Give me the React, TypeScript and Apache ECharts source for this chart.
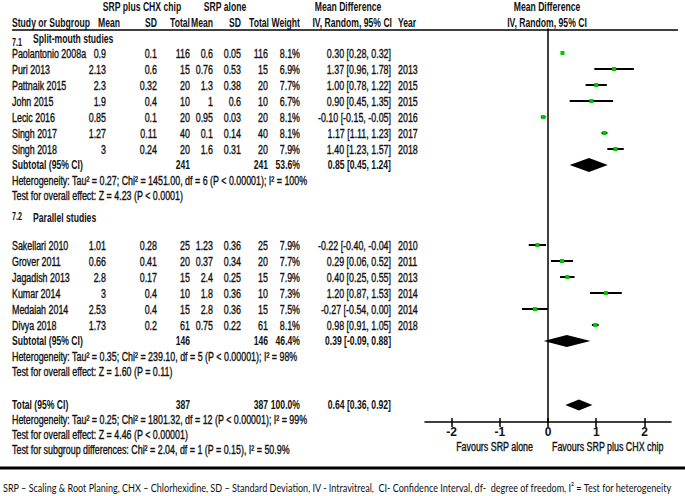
import React, { useEffect, useRef } from "react";
import * as echarts from "echarts";

// ---------- DATA ----------
const studies1 = ["Paolantonio 2008a", "Puri 2013", "Pattnaik 2015", "John 2015", "Lecic 2016", "Singh 2017", "Singh 2018"];
const expMean1 = [0.9, 2.13, 2.3, 1.9, 0.85, 1.27, 3];
const expSD1 = [0.1, 0.6, 0.32, 0.4, 0.1, 0.11, 0.24];
const expN1 = [116, 15, 20, 10, 20, 40, 20];
const ctlMean1 = [0.6, 0.76, 1.3, 1, 0.95, 0.1, 1.6];
const ctlSD1 = [0.05, 0.53, 0.38, 0.6, 0.03, 0.14, 0.31];
const ctlN1 = [116, 15, 20, 10, 20, 40, 20];
const weight1 = [8.1, 6.9, 7.7, 6.7, 8.1, 8.1, 7.9];
const md1 = [0.3, 1.37, 1.0, 0.9, -0.1, 1.17, 1.4];
const lo1 = [0.28, 0.96, 0.78, 0.45, -0.15, 1.11, 1.23];
const hi1 = [0.32, 1.78, 1.22, 1.35, -0.05, 1.23, 1.57];
const year1 = ["", "2013", "2015", "2015", "2016", "2017", "2018"];

const studies2 = ["Sakellari 2010", "Grover 2011", "Jagadish 2013", "Kumar 2014", "Medaiah 2014", "Divya 2018"];
const expMean2 = [1.01, 0.66, 2.8, 3, 2.53, 1.73];
const expSD2 = [0.28, 0.41, 0.17, 0.4, 0.4, 0.2];
const expN2 = [25, 20, 15, 10, 15, 61];
const ctlMean2 = [1.23, 0.37, 2.4, 1.8, 2.8, 0.75];
const ctlSD2 = [0.36, 0.34, 0.25, 0.36, 0.36, 0.22];
const ctlN2 = [25, 20, 15, 10, 15, 61];
const weight2 = [7.9, 7.7, 7.9, 7.3, 7.5, 8.1];
const md2 = [-0.22, 0.29, 0.4, 1.2, -0.27, 0.98];
const lo2 = [-0.4, 0.06, 0.25, 0.87, -0.54, 0.91];
const hi2 = [-0.04, 0.52, 0.55, 1.53, 0.0, 1.05];
const year2 = ["2010", "2011", "2013", "2014", "2014", "2018"];

const groupNames = ["Split-mouth studies", "Parallel studies"];
const groupCodes = ["7.1", "7.2"];
const summaryLabels = ["Subtotal (95% CI)", "Subtotal (95% CI)", "Total (95% CI)"];
const summaryWeight = [53.6, 46.4, 100.0];
const summaryMD = [0.85, 0.39, 0.64];
const summaryLo = [0.45, -0.09, 0.36];
const summaryHi = [1.24, 0.88, 0.92];
const heterogeneity = [
  "Heterogeneity: Tau\u00b2 = 0.27; Chi\u00b2 = 1451.00, df = 6 (P < 0.00001); I\u00b2 = 100%",
  "Heterogeneity: Tau\u00b2 = 0.35; Chi\u00b2 = 239.10, df = 5 (P < 0.00001); I\u00b2 = 98%",
  "Heterogeneity: Tau\u00b2 = 0.25; Chi\u00b2 = 1801.32, df = 12 (P < 0.00001); I\u00b2 = 99%",
];
const overallEffect = [
  "Test for overall effect: Z = 4.23 (P < 0.0001)",
  "Test for overall effect: Z = 1.60 (P = 0.11)",
  "Test for overall effect: Z = 4.46 (P < 0.00001)",
];
const subgroupTest = "Test for subgroup differences: Chi\u00b2 = 2.04, df = 1 (P = 0.15), I\u00b2 = 50.9%";
const tickValues = [-2, -1, 0, 1, 2];
const footnote =
  "SRP \u2013 Scaling & Root Planing, CHX \u2013 Chlorhexidine, SD \u2013 Standard Deviation, IV - Intravitreal,  CI- Confidence Interval, df-  degree of freedom, I\u00b2 = Test for heterogeneity";

// ---------- LAYOUT / STYLE ----------
const FONT = "'Liberation Sans', Arial, sans-serif";
const FOOT_FONT = "Lato, 'Open Sans', sans-serif";
const COL = { study: 12, eMean: 106, eSD: 157, eN: 190, cMean: 213, cSD: 241, cN: 268, weight: 300, md: 391, year: 398 };
const GRID_TOP = 29;
const ROW_PX = 16;
const GRID_H = 393;
const TEXT_COLOR = "#111";
const GREEN = "#00c800";
const DIAMOND_HALF = [7, 6, 5.5];
const ROW = {
  g1Head: 0.75, g1Start: 1.5, g1Sub: 8.5, g1Het: 9.45, g1Test: 10.4,
  g2Head: 11.8, g2Start: 13.5, g2Sub: 19.5, g2Het: 20.45, g2Test: 21.4,
  total: 23.5, totHet: 24.4, totTest: 25.35, subTest: 26.3,
};

function measure(text: string, font: string) {
  const c = document.createElement("canvas").getContext("2d");
  if (!c) return 1;
  c.font = font;
  return c.measureText(text).width;
}

type Cell = { text: string; x: number; align: "left" | "right" | "center"; bold?: boolean; size?: number; dy?: number };
type Row = { r: number; cells: Cell[] };

const fmt = (v: number) => String(v);
const ci = (m: number, l: number, h: number) => `${m.toFixed(2)} [${l.toFixed(2)}, ${h.toFixed(2)}]`;
const sum = (a: number[]) => a.reduce((s, v) => s + v, 0);

function buildRows(): Row[] {
  const rows: Row[] = [];
  const groups = [
    { names: studies1, em: expMean1, esd: expSD1, en: expN1, cm: ctlMean1, csd: ctlSD1, cn: ctlN1, w: weight1, md: md1, lo: lo1, hi: hi1, yr: year1, head: ROW.g1Head, start: ROW.g1Start, sub: ROW.g1Sub, het: ROW.g1Het, test: ROW.g1Test },
    { names: studies2, em: expMean2, esd: expSD2, en: expN2, cm: ctlMean2, csd: ctlSD2, cn: ctlN2, w: weight2, md: md2, lo: lo2, hi: hi2, yr: year2, head: ROW.g2Head, start: ROW.g2Start, sub: ROW.g2Sub, het: ROW.g2Het, test: ROW.g2Test },
  ];
  groups.forEach((g, gi) => {
    rows.push({
      r: g.head,
      cells: [
        { text: groupCodes[gi], x: COL.study, align: "left", bold: true, size: 10, dy: gi === 0 ? 2 : -1 },
        { text: groupNames[gi], x: 33, align: "left", bold: true, dy: gi === 0 ? -2 : 0 },
      ],
    });
    g.names.forEach((n, i) => {
      rows.push({
        r: g.start + i,
        cells: [
          { text: n, x: COL.study, align: "left" },
          { text: fmt(g.em[i]), x: COL.eMean, align: "right" },
          { text: fmt(g.esd[i]), x: COL.eSD, align: "right" },
          { text: fmt(g.en[i]), x: COL.eN, align: "right" },
          { text: fmt(g.cm[i]), x: COL.cMean, align: "right" },
          { text: fmt(g.csd[i]), x: COL.cSD, align: "right" },
          { text: fmt(g.cn[i]), x: COL.cN, align: "right" },
          { text: g.w[i].toFixed(1) + "%", x: COL.weight, align: "right" },
          { text: ci(g.md[i], g.lo[i], g.hi[i]), x: COL.md, align: "right" },
          { text: g.yr[i], x: COL.year, align: "left" },
        ],
      });
    });
    rows.push({
      r: g.sub,
      cells: [
        { text: summaryLabels[gi], x: COL.study, align: "left", bold: true },
        { text: fmt(sum(g.en)), x: COL.eN, align: "right", bold: true },
        { text: fmt(sum(g.cn)), x: COL.cN, align: "right", bold: true },
        { text: summaryWeight[gi].toFixed(1) + "%", x: COL.weight, align: "right", bold: true },
        { text: ci(summaryMD[gi], summaryLo[gi], summaryHi[gi]), x: COL.md, align: "right", bold: true },
      ],
    });
    rows.push({ r: g.het, cells: [{ text: heterogeneity[gi], x: COL.study, align: "left" }] });
    rows.push({ r: g.test, cells: [{ text: overallEffect[gi], x: COL.study, align: "left" }] });
  });
  rows.push({
    r: ROW.total,
    cells: [
      { text: summaryLabels[2], x: COL.study, align: "left", bold: true },
      { text: fmt(sum(expN1) + sum(expN2)), x: COL.eN, align: "right", bold: true },
      { text: fmt(sum(ctlN1) + sum(ctlN2)), x: COL.cN, align: "right", bold: true },
      { text: summaryWeight[2].toFixed(1) + "%", x: COL.weight, align: "right", bold: true },
      { text: ci(summaryMD[2], summaryLo[2], summaryHi[2]), x: COL.md, align: "right", bold: true },
    ],
  });
  rows.push({ r: ROW.totHet, cells: [{ text: heterogeneity[2], x: COL.study, align: "left" }] });
  rows.push({ r: ROW.totTest, cells: [{ text: overallEffect[2], x: COL.study, align: "left" }] });
  rows.push({ r: ROW.subTest, cells: [{ text: subgroupTest, x: COL.study, align: "left" }] });
  return rows;
}

export default function App() {
  const ref = useRef<HTMLDivElement>(null);
  useEffect(() => {
    if (!ref.current) return;
    const chart = echarts.init(ref.current, null, { renderer: "svg" });
    const sx = 296 / measure(heterogeneity[0], `12px ${FONT}`);
    const sxBold = 78 / measure("Study or Subgroup", `bold 12px ${FONT}`);
    const footW = measure(footnote, `12px ${FOOT_FONT}`);
    const footSx = 670 / footW;

    const txt = (text: string, x: number, y: number, align: string, bold = false, size = 12) => ({
      type: "text",
      x,
      y,
      scaleX: bold ? sxBold : sx,
      silent: true,
      style: {
        text,
        fill: TEXT_COLOR,
        stroke: bold ? undefined : TEXT_COLOR,
        lineWidth: bold ? 0 : 0.35,
        fontSize: size,
        fontFamily: FONT,
        fontWeight: bold ? "bold" : "normal",
        align,
        verticalAlign: "middle",
      },
    });

    const rows = buildRows();
    const yMax = GRID_H / ROW_PX;

    const studyData: number[][] = [];
    md1.forEach((m, i) => studyData.push([m, lo1[i], hi1[i], ROW.g1Start + i]));
    md2.forEach((m, i) => studyData.push([m, lo2[i], hi2[i], ROW.g2Start + i]));
    const diamondData = [
      [summaryMD[0], summaryLo[0], summaryHi[0], ROW.g1Sub, 0],
      [summaryMD[1], summaryLo[1], summaryHi[1], ROW.g2Sub, 1],
      [summaryMD[2], summaryLo[2], summaryHi[2], ROW.total, 2],
    ];

    const headerY1 = 7;
    const headerY2 = 23;
    const graphics: any[] = [
      txt("SRP plus CHX chip", 142, headerY1, "center", true),
      txt("SRP alone", 225, headerY1, "center", true),
      txt("Mean Difference", 348, headerY1, "center", true),
      txt("Mean Difference", 547, headerY1, "center", true),
      txt("Study or Subgroup", COL.study, headerY2, "left", true),
      txt("Mean", 120, headerY2, "right", true),
      txt("SD", COL.eSD, headerY2, "right", true),
      txt("Total", COL.eN, headerY2, "right", true),
      txt("Mean", COL.cMean, headerY2, "right", true),
      txt("SD", COL.cSD, headerY2, "right", true),
      txt("Total", 269, headerY2, "right", true),
      txt("Weight", COL.weight, headerY2, "right", true),
      txt("IV, Random, 95% CI", 392, headerY2, "right", true),
      txt("Year", COL.year, headerY2, "left", true),
      txt("IV, Random, 95% CI", 547, headerY2, "center", true),
      txt("Favours SRP alone", 533, 446, "right"),
      txt("Favours SRP plus CHX chip", 552, 446, "left"),
      {
        type: "line",
        silent: true,
        shape: { x1: 12, y1: 30, x2: 678, y2: 30 },
        style: { stroke: "#000", lineWidth: 1.5 },
      },
      {
        type: "line",
        silent: true,
        shape: { x1: 0, y1: 468, x2: 685, y2: 468 },
        style: { stroke: "#000", lineWidth: 3 },
      },
      {
        type: "text",
        x: 3,
        y: 487,
        scaleX: footSx,
        silent: true,
        style: { text: footnote, fill: "#111", fontSize: 12, fontFamily: FOOT_FONT, align: "left", verticalAlign: "middle" },
      },
    ];

    const axisText = { color: TEXT_COLOR, fontSize: 12, fontFamily: FONT, fontWeight: "bold" };

    chart.setOption({
      animation: false,
      backgroundColor: "#fff",
      grid: { left: 425, right: 14, top: GRID_TOP, height: GRID_H },
      xAxis: [
        {
          type: "value",
          min: -2.55,
          max: 2.55,
          position: "bottom",
          axisLine: { show: true, onZero: false, lineStyle: { color: "#000", width: 1.5 } },
          axisTick: { show: true, inside: false, length: 5, customValues: tickValues, lineStyle: { color: "#000", width: 1.5 } },
          axisLabel: { show: true, customValues: tickValues, margin: 4, ...axisText, formatter: (v: number) => String(v) },
          splitLine: { show: false },
        },
        {
          type: "value",
          min: -2.55,
          max: 2.55,
          position: "bottom",
          axisLine: { show: false, onZero: false },
          axisTick: { show: true, inside: true, length: 4, customValues: tickValues, lineStyle: { color: "#000", width: 1.5 } },
          axisLabel: { show: false },
          splitLine: { show: false },
        },
      ],
      yAxis: {
        type: "value",
        inverse: true,
        min: 0,
        max: yMax,
        axisLine: { show: true, onZero: true, lineStyle: { color: "#000", width: 1.5 } },
        axisTick: { show: false },
        axisLabel: { show: false },
        splitLine: { show: false },
      },
      graphic: graphics,
      series: [
        {
          type: "custom",
          name: "table",
          silent: true,
          clip: false,
          data: rows.map((row) => [0, row.r]),
          encode: { x: 0, y: 1 },
          renderItem: (params: any, api: any) => {
            const row = rows[params.dataIndex];
            const y = api.coord([0, row.r])[1];
            return {
              type: "group",
              children: row.cells.map((c) => txt(c.text, c.x, y + (c.dy || 0), c.align, !!c.bold, c.size || 12)),
            };
          },
        },
        {
          type: "custom",
          name: "studies",
          silent: true,
          clip: false,
          data: studyData,
          encode: { x: [0, 1, 2], y: 3 },
          renderItem: (params: any, api: any) => {
            const m = api.value(0), l = api.value(1), h = api.value(2), r = api.value(3);
            const pl = api.coord([l, r]);
            const ph = api.coord([h, r]);
            const pm = api.coord([m, r]);
            return {
              type: "group",
              children: [
                { type: "line", shape: { x1: pl[0], y1: pl[1], x2: ph[0], y2: ph[1] }, style: { stroke: "#000", lineWidth: 2 } },
                { type: "rect", shape: { x: pm[0] - 2, y: pm[1] - 2, width: 4, height: 4 }, style: { fill: GREEN } },
              ],
            };
          },
        },
        {
          type: "custom",
          name: "diamonds",
          silent: true,
          clip: false,
          data: diamondData,
          encode: { x: [0, 1, 2], y: 3 },
          renderItem: (params: any, api: any) => {
            const m = api.value(0), l = api.value(1), h = api.value(2), r = api.value(3);
            const hh = DIAMOND_HALF[api.value(4)];
            const pl = api.coord([l, r]);
            const ph = api.coord([h, r]);
            const pm = api.coord([m, r]);
            return {
              type: "polygon",
              shape: { points: [[pl[0], pl[1]], [pm[0], pm[1] - hh], [ph[0], ph[1]], [pm[0], pm[1] + hh]] },
              style: { fill: "#000" },
            };
          },
        },
      ],
    });
    return () => chart.dispose();
  }, []);
  return <div ref={ref} style={{ position: "absolute", left: 0, top: 0, width: 685, height: 496, background: "#fff" }} />;
}
